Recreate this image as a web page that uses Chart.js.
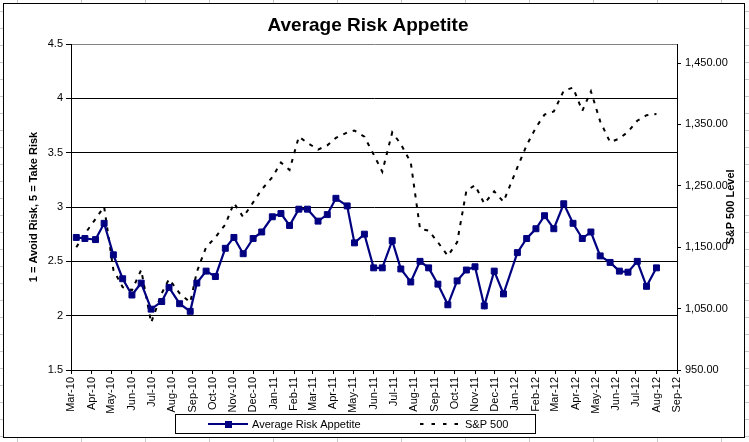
<!DOCTYPE html>
<html>
<head>
<meta charset="utf-8">
<script src="https://cdn.jsdelivr.net/npm/chart.js@4.4.1/dist/chart.umd.min.js"></script>
<style>
  html, body { margin: 0; padding: 0; }
  body {
    width: 749px; height: 442px; overflow: hidden; position: relative;
    background-color: #fff;
    background-image:
      linear-gradient(to right, #c8c8c8 1px, transparent 1px),
      linear-gradient(to bottom, #c8c8c8 1px, transparent 1px);
    background-size: 64px 17px;
    background-position: 17px 11px;
  }
  #frame {
    position: absolute; left: 3px; top: 3px; width: 742px; height: 435px;
    box-sizing: border-box; border: 1px solid #000; background: #fff;
  }
  #wrap { position: absolute; left: 0; top: 0; width: 749px; height: 442px; }
</style>
</head>
<body>
<div id="frame"></div>
<div id="wrap"><canvas id="riskChart"></canvas></div>
<script>
// Survey dates (roughly every two weeks)
const dates = [
  '2010-03-09', '2010-03-22', '2010-04-07', '2010-04-20', '2010-05-04', '2010-05-18',
  '2010-06-01', '2010-06-15', '2010-06-30', '2010-07-16', '2010-07-27', '2010-08-12',
  '2010-08-28', '2010-09-07', '2010-09-21', '2010-10-05', '2010-10-20', '2010-11-02',
  '2010-11-16', '2010-12-01', '2010-12-14', '2010-12-30', '2011-01-12', '2011-01-25',
  '2011-02-08', '2011-02-21', '2011-03-09', '2011-03-23', '2011-04-05', '2011-04-22',
  '2011-05-03', '2011-05-18', '2011-06-01', '2011-06-14', '2011-06-29', '2011-07-12',
  '2011-07-27', '2011-08-10', '2011-08-23', '2011-09-06', '2011-09-21', '2011-10-05',
  '2011-10-19', '2011-11-01', '2011-11-15', '2011-11-30', '2011-12-14', '2012-01-04',
  '2012-01-18', '2012-02-01', '2012-02-14', '2012-02-28', '2012-03-14', '2012-03-28',
  '2012-04-11', '2012-04-24', '2012-05-08', '2012-05-23', '2012-06-06', '2012-06-19',
  '2012-07-03', '2012-07-17', '2012-08-01'
];

const riskAppetite = [
  2.72, 2.71, 2.70, 2.85, 2.56, 2.34, 2.19, 2.30, 2.06, 2.13, 2.26, 2.11,
  2.04, 2.30, 2.41, 2.36, 2.62, 2.72, 2.57, 2.71, 2.77, 2.91, 2.94, 2.83,
  2.98, 2.98, 2.87, 2.93, 3.08, 3.01, 2.67, 2.75, 2.44, 2.44, 2.69, 2.43,
  2.31, 2.50, 2.44, 2.29, 2.10, 2.32, 2.42, 2.45, 2.09, 2.41, 2.20, 2.58,
  2.71, 2.80, 2.92, 2.80, 3.03, 2.85, 2.71, 2.77, 2.55, 2.49, 2.41, 2.40,
  2.50, 2.27, 2.44
];

const sp500 = [
  1150, 1172, 1196, 1216, 1113, 1085, 1080, 1113, 1027, 1075, 1098, 1075,
  1060, 1110, 1150, 1166, 1187, 1222, 1199, 1223, 1244, 1264, 1288, 1276,
  1330, 1320, 1309, 1316, 1328, 1337, 1340, 1330, 1301, 1273, 1337, 1318,
  1288, 1180, 1177, 1158, 1136, 1158, 1242, 1251, 1221, 1241, 1224, 1280,
  1316, 1345, 1366, 1371, 1405, 1410, 1372, 1404, 1355, 1321, 1327, 1338,
  1356, 1365, 1367
];

const monthLabels = [
  'Mar-10', 'Apr-10', 'May-10', 'Jun-10', 'Jul-10', 'Aug-10', 'Sep-10', 'Oct-10',
  'Nov-10', 'Dec-10', 'Jan-11', 'Feb-11', 'Mar-11', 'Apr-11', 'May-11', 'Jun-11',
  'Jul-11', 'Aug-11', 'Sep-11', 'Oct-11', 'Nov-11', 'Dec-11', 'Jan-12', 'Feb-12',
  'Mar-12', 'Apr-12', 'May-12', 'Jun-12', 'Jul-12', 'Aug-12', 'Sep-12'
];

const riskTicks = [1.5, 2, 2.5, 3, 3.5, 4, 4.5];
const spTicks = [950, 1050, 1150, 1250, 1350, 1450];

// days since 1 Mar 2010
const BASE = Date.UTC(2010, 2, 1);
function dayOffset(s) {
  const [y, m, d] = s.split('-').map(Number);
  return (Date.UTC(y, m - 1, d) - BASE) / 86400000;
}
const monthTicks = monthLabels.map((_, i) => (Date.UTC(2010, 2 + i, 1) - BASE) / 86400000);

const FONT = '"Liberation Sans", Arial, sans-serif';

// Title, axis titles and boxed legend drawn like the Excel original
const extrasPlugin = {
  id: 'extras',
  afterDraw(chart) {
    const ctx = chart.ctx;
    ctx.save();
    ctx.fillStyle = '#000';
    ctx.textAlign = 'center';
    ctx.textBaseline = 'alphabetic';
    ctx.font = 'bold 19px ' + FONT;
    ctx.fillText('Average Risk Appetite', 368, 31);

    ctx.font = 'bold 11px ' + FONT;
    ctx.textBaseline = 'middle';
    ctx.save();
    ctx.translate(34, 207);
    ctx.rotate(-Math.PI / 2);
    ctx.fillText('1 = Avoid Risk, 5 = Take Risk', 0, 0);
    ctx.restore();
    ctx.save();
    ctx.translate(731, 207);
    ctx.rotate(-Math.PI / 2);
    ctx.fillText('S&P 500 Level', 0, 0);
    ctx.restore();

    // legend
    ctx.strokeStyle = '#000';
    ctx.lineWidth = 1;
    ctx.strokeRect(175.5, 414.5, 360, 19);
    ctx.strokeStyle = '#000080';
    ctx.lineWidth = 2;
    ctx.beginPath();
    ctx.moveTo(208, 424);
    ctx.lineTo(248, 424);
    ctx.stroke();
    ctx.fillStyle = '#000080';
    ctx.fillRect(225, 421, 7, 7);
    ctx.strokeStyle = '#000';
    ctx.setLineDash([3.5, 8]);
    ctx.beginPath();
    ctx.moveTo(420, 424);
    ctx.lineTo(460, 424);
    ctx.stroke();
    ctx.setLineDash([]);
    ctx.fillStyle = '#000';
    ctx.textAlign = 'left';
    ctx.textBaseline = 'alphabetic';
    ctx.font = '11px ' + FONT;
    ctx.fillText('Average Risk Appetite', 252, 428);
    ctx.fillText('S&P 500', 465, 428);
    ctx.restore();
  }
};

const ctx = document.getElementById('riskChart').getContext('2d');
new Chart(ctx, {
  type: 'line',
  data: {
    datasets: [{
      label: 'Average Risk Appetite',
      data: dates.map((d, i) => ({ x: dayOffset(d), y: riskAppetite[i] })),
      yAxisID: 'y',
      borderColor: '#000080',
      backgroundColor: '#000080',
      borderWidth: 2.2,
      pointStyle: 'rect',
      pointRadius: 4.2,
      pointBorderWidth: 1,
      tension: 0
    }, {
      label: 'S&P 500',
      data: dates.map((d, i) => ({ x: dayOffset(d), y: sp500[i] })),
      yAxisID: 'y1',
      borderColor: '#000',
      borderWidth: 2,
      borderDash: [4, 6],
      pointRadius: 0,
      tension: 0
    }]
  },
  options: {
    responsive: true,
    maintainAspectRatio: false,
    animation: false,
    layout: { padding: { top: 44, left: 0, right: 0, bottom: 0 } },
    plugins: {
      legend: { display: false },
      title: { display: false },
      tooltip: { enabled: false }
    },
    scales: {
      x: {
        type: 'linear',
        min: 0,
        max: monthTicks[monthTicks.length - 1],
        afterBuildTicks: (scale) => { scale.ticks = monthTicks.map(v => ({ value: v })); },
        afterFit: (scale) => { scale.height = 72; },
        grid: { drawOnChartArea: false, drawTicks: true, tickLength: 4, tickColor: '#000' },
        border: { display: true, color: '#000', width: 1 },
        ticks: {
          autoSkip: false,
          minRotation: 90,
          maxRotation: 90,
          padding: 3,
          color: '#000',
          font: { family: FONT, size: 11 },
          callback: (value, index) => monthLabels[index]
        }
      },
      y: {
        position: 'left',
        min: 1.5,
        max: 4.5,
        afterBuildTicks: (scale) => { scale.ticks = riskTicks.map(v => ({ value: v })); },
        afterFit: (scale) => { scale.width = 71; },
        grid: {
          color: (c) => (c.tick && c.tick.value === 4.5 ? '#808080' : '#000'),
          lineWidth: 1,
          tickLength: 5,
          tickColor: '#000'
        },
        border: { display: true, color: '#000', width: 1 },
        ticks: {
          padding: 3,
          color: '#000',
          font: { family: FONT, size: 11 },
          callback: (v) => String(v)
        }
      },
      y1: {
        position: 'right',
        min: 950,
        max: 1481,
        afterBuildTicks: (scale) => { scale.ticks = spTicks.map(v => ({ value: v })); },
        afterFit: (scale) => { scale.width = 72; },
        grid: { drawOnChartArea: false, tickLength: 4, tickColor: '#000' },
        border: { display: true, color: '#000', width: 1 },
        ticks: {
          padding: 4,
          color: '#000',
          font: { family: FONT, size: 11 },
          callback: (v) => v.toLocaleString('en-US', { minimumFractionDigits: 2, maximumFractionDigits: 2 })
        }
      }
    }
  },
  plugins: [extrasPlugin]
});
</script>
</body>
</html>
